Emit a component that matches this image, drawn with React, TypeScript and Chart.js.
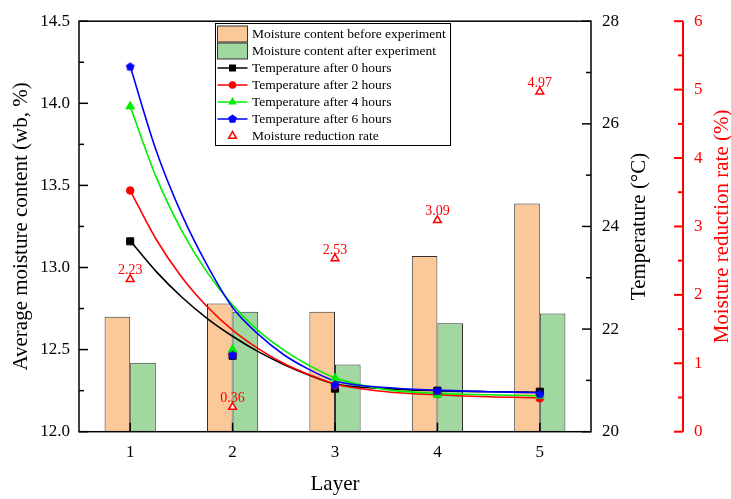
import React, { useEffect, useRef } from 'react';
import { Chart, registerables } from 'chart.js';

Chart.register(...registerables);

// ---------- data ----------
const layers = ['1', '2', '3', '4', '5'];
const layerX = [1, 2, 3, 4, 5];
const moistureBefore = [12.70, 12.78, 12.73, 13.07, 13.39];
const moistureAfter = [12.42, 12.73, 12.41, 12.66, 12.72];

const temp0h = [23.71, 21.48, 20.84, 20.80, 20.78];
const temp2h = [24.70, 21.50, 20.90, 20.73, 20.65];
const temp4h = [26.34, 21.60, 21.04, 20.72, 20.70];
const temp6h = [27.12, 21.50, 20.92, 20.80, 20.74];

const reductionRate = [2.23, 0.36, 2.53, 3.09, 4.97];

// fitted curves
const fitX = [1, 1.25, 1.5, 1.75, 2, 2.25, 2.5, 2.75, 3, 3.5, 4, 4.5, 5];
const fit0h = [23.72, 23.13, 22.63, 22.21, 21.86, 21.56, 21.31, 21.10, 20.93, 20.84, 20.80, 20.78, 20.77];
const fit2h = [24.70, 23.76, 23.02, 22.44, 21.98, 21.62, 21.33, 21.11, 20.93, 20.78, 20.72, 20.68, 20.66];
const fit4h = [26.34, 24.98, 23.93, 23.11, 22.47, 21.97, 21.59, 21.29, 21.05, 20.82, 20.75, 20.72, 20.70];
const fit6h = [27.12, 25.50, 24.25, 23.25, 22.42, 21.90, 21.50, 21.21, 20.99, 20.86, 20.81, 20.78, 20.76];

const legendLabels = [
  'Moisture content before experiment',
  'Moisture content after experiment',
  'Temperature after 0 hours',
  'Temperature after 2 hours',
  'Temperature after 4 hours',
  'Temperature after 6 hours',
  'Moisture reduction rate',
];

const FONT = "'Liberation Serif', 'Times New Roman', serif";
const ORANGE = '#FAC899';
const GREEN = '#A0D8A0';
const BAR_EDGE = '#333333';
const C_BLACK = '#000000';
const C_RED = '#FF0000';
const C_GREEN = '#00EE00';
const C_BLUE = '#0000FF';

function pentPath(ctx: CanvasRenderingContext2D, x: number, y: number, r: number) {
  ctx.beginPath();
  for (let i = 0; i < 5; i++) {
    const a = -Math.PI / 2 + (i * 2 * Math.PI) / 5;
    const px = x + r * Math.cos(a);
    const py = y + r * Math.sin(a);
    if (i === 0) ctx.moveTo(px, py);
    else ctx.lineTo(px, py);
  }
  ctx.closePath();
}

function triPath(ctx: CanvasRenderingContext2D, x: number, y: number, r: number) {
  ctx.beginPath();
  let rad = 0;
  for (let i = 0; i < 3; i++) {
    const px = x + Math.sin(rad) * r;
    const py = y - Math.cos(rad) * r;
    if (i === 0) ctx.moveTo(px, py);
    else ctx.lineTo(px, py);
    rad += (2 * Math.PI) / 3;
  }
  ctx.closePath();
}

function makePentagon(color: string, r: number) {
  const c = document.createElement('canvas');
  const s = Math.ceil(r * 2 + 2);
  c.width = s;
  c.height = s;
  const g = c.getContext('2d')!;
  g.fillStyle = color;
  pentPath(g, s / 2, s / 2 + 0.5, r);
  g.fill();
  return c;
}

const toXY = (xs: number[], ys: number[]) => xs.map((x, i) => ({ x, y: ys[i] }));

const overlayPlugin = {
  id: 'overlay',
  afterDraw(chart: any) {
    const { ctx, chartArea: a, scales } = chart;
    const line = (x1: number, y1: number, x2: number, y2: number) => {
      ctx.beginPath();
      ctx.moveTo(x1, y1);
      ctx.lineTo(x2, y2);
      ctx.stroke();
    };
    ctx.save();
    // frame
    ctx.strokeStyle = '#000';
    ctx.lineWidth = 1.5;
    ctx.strokeRect(a.left, a.top, a.right - a.left, a.bottom - a.top);
    // left ticks (inward)
    const ys = scales.y;
    for (let i = 0; i <= 10; i++) {
      const v = 12 + i * 0.25;
      const py = ys.getPixelForValue(v);
      line(a.left, py, a.left + (i % 2 === 0 ? 9 : 5), py);
    }
    // temperature ticks on right spine (inward)
    const yt = scales.yT;
    for (let t = 20; t <= 28; t++) {
      const py = yt.getPixelForValue(t);
      line(a.right - (t % 2 === 0 ? 9 : 5), py, a.right, py);
    }
    // bottom ticks
    const xs = scales.x;
    layerX.forEach((x) => {
      const px = xs.getPixelForValue(x);
      line(px, a.bottom, px, a.bottom - 9);
    });
    // red axis
    const yr = scales.yR;
    const rx = yr.left;
    ctx.strokeStyle = C_RED;
    ctx.lineWidth = 2;
    line(rx, a.top, rx, a.bottom);
    for (let i = 0; i <= 12; i++) {
      const py = yr.getPixelForValue(i * 0.5);
      line(rx - (i % 2 === 0 ? 9 : 5), py, rx, py);
    }
    // right titles
    const cy = (a.top + a.bottom) / 2;
    ctx.font = `21px ${FONT}`;
    ctx.textAlign = 'center';
    ctx.textBaseline = 'middle';
    ctx.save();
    ctx.translate(yt.right - 44, cy);
    ctx.rotate(-Math.PI / 2);
    ctx.fillStyle = '#000';
    ctx.fillText('Temperature (°C)', 0, 0);
    ctx.restore();
    ctx.save();
    ctx.translate(yr.left + 39, cy);
    ctx.rotate(-Math.PI / 2);
    ctx.fillStyle = C_RED;
    ctx.fillText('Moisture reduction rate (%)', 0, 0);
    ctx.restore();
    // rate labels
    const rateIdx = chart.data.datasets.findIndex((d: any) => d.label === 'rate');
    const meta = chart.getDatasetMeta(rateIdx);
    ctx.font = `14px ${FONT}`;
    ctx.fillStyle = C_RED;
    ctx.textAlign = 'center';
    ctx.textBaseline = 'alphabetic';
    meta.data.forEach((pt: any, i: number) => {
      ctx.fillText(reductionRate[i].toFixed(2), pt.x, pt.y - 5);
    });
    // legend
    const lx = 215, ly = 23, lw = 235, lh = 122;
    ctx.fillStyle = '#fff';
    ctx.fillRect(lx, ly, lw, lh);
    ctx.strokeStyle = '#000';
    ctx.lineWidth = 1;
    ctx.strokeRect(lx + 0.5, ly + 0.5, lw, lh);
    ctx.font = `13.5px ${FONT}`;
    ctx.textAlign = 'left';
    ctx.textBaseline = 'middle';
    const sx1 = 217.5, sx2 = 247.5, mx = 232.5;
    legendLabels.forEach((lab, i) => {
      const ry = 34 + i * 17;
      if (i < 2) {
        ctx.fillStyle = i === 0 ? ORANGE : GREEN;
        ctx.fillRect(sx1, ry - 8, sx2 - sx1, 16);
        ctx.strokeStyle = BAR_EDGE;
        ctx.lineWidth = 1;
        ctx.strokeRect(sx1, ry - 8, sx2 - sx1, 16);
      } else if (i < 6) {
        const col = [C_BLACK, C_RED, C_GREEN, C_BLUE][i - 2];
        ctx.strokeStyle = col;
        ctx.fillStyle = col;
        ctx.lineWidth = 1.5;
        line(sx1, ry, sx2, ry);
        if (i === 2) ctx.fillRect(mx - 3.5, ry - 3.5, 7, 7);
        else if (i === 3) { ctx.beginPath(); ctx.arc(mx, ry, 3.8, 0, Math.PI * 2); ctx.fill(); }
        else if (i === 4) { triPath(ctx, mx, ry, 5); ctx.fill(); }
        else { pentPath(ctx, mx, ry, 4.6); ctx.fill(); }
      } else {
        triPath(ctx, mx, ry, 4.5);
        ctx.fillStyle = '#fff';
        ctx.fill();
        ctx.strokeStyle = C_RED;
        ctx.lineWidth = 1.5;
        ctx.stroke();
      }
      ctx.fillStyle = '#000';
      ctx.fillText(lab, 252, ry);
    });
    ctx.restore();
  },
};

export default function App() {
  const ref = useRef<HTMLCanvasElement>(null);

  useEffect(() => {
    const canvas = ref.current;
    if (!canvas) return;
    Chart.defaults.font.family = FONT;
    Chart.defaults.color = '#000';
    const pent = makePentagon(C_BLUE, 4.6);

    const markerDs = (data: number[], color: string, style: any, radius: number, order: number) => ({
      type: 'line' as const,
      label: 'm',
      data: toXY(layerX, data),
      xAxisID: 'x',
      yAxisID: 'yT',
      showLine: false,
      pointStyle: style,
      pointRadius: radius,
      pointBackgroundColor: color,
      pointBorderColor: color,
      pointBorderWidth: 1,
      order,
    });
    const fitDs = (data: number[], color: string, order: number) => ({
      type: 'line' as const,
      label: 'fit',
      data: toXY(fitX, data),
      xAxisID: 'x',
      yAxisID: 'yT',
      borderColor: color,
      borderWidth: 1.6,
      pointRadius: 0,
      cubicInterpolationMode: 'monotone' as const,
      fill: false,
      order,
    });
    const barDs = (label: string, data: number[], color: string) => ({
      type: 'bar' as const,
      label,
      data: toXY(layerX, data),
      backgroundColor: color,
      borderColor: BAR_EDGE,
      borderWidth: 1,
      xAxisID: 'x',
      yAxisID: 'y',
      categoryPercentage: 0.5,
      barPercentage: 1.0,
      order: 20,
    });

    const chart = new Chart(canvas, {
      type: 'line',
      data: {
        datasets: [
          barDs(legendLabels[0], moistureBefore, ORANGE),
          barDs(legendLabels[1], moistureAfter, GREEN),
          fitDs(fit0h, C_BLACK, 12),
          fitDs(fit2h, C_RED, 11),
          fitDs(fit4h, C_GREEN, 10),
          fitDs(fit6h, C_BLUE, 9),
          markerDs(temp0h, C_BLACK, 'rect', 5, 6),
          markerDs(temp2h, C_RED, 'circle', 3.8, 5),
          markerDs(temp4h, C_GREEN, 'triangle', 5, 4),
          markerDs(temp6h, C_BLUE, pent, 4.6, 3),
          {
            type: 'line',
            label: 'rate',
            data: toXY(layerX, reductionRate),
            xAxisID: 'x',
            yAxisID: 'yR',
            showLine: false,
            pointStyle: 'triangle',
            pointRadius: 4.5,
            pointBackgroundColor: '#ffffff',
            pointBorderColor: C_RED,
            pointBorderWidth: 1.5,
            order: 1,
          },
        ] as any,
      },
      options: {
        responsive: false,
        animation: false,
        devicePixelRatio: 1,
        events: [],
        layout: { padding: { top: 15, left: 0, right: 0, bottom: 0 } },
        plugins: { legend: { display: false }, tooltip: { enabled: false } },
        scales: {
          x: {
            type: 'linear',
            min: 0.5,
            max: 5.5,
            offset: false,
            grid: { display: false, drawTicks: false },
            border: { display: false },
            afterBuildTicks: (s: any) => {
              s.ticks = layerX.map((v) => ({ value: v }));
            },
            ticks: {
              font: { size: 17, family: FONT },
              color: '#000',
              padding: 11,
              autoSkip: false,
              maxRotation: 0,
              callback: (v: any) => {
                const i = layerX.indexOf(Number(v));
                return i >= 0 ? layers[i] : '';
              },
            },
            title: {
              display: true,
              text: 'Layer',
              font: { size: 21, family: FONT },
              color: '#000',
              padding: { top: 0, bottom: 1.5 },
            },
            afterFit: (s: any) => { s.height = 67.3; },
          },
          y: {
            type: 'linear',
            position: 'left',
            stacked: false,
            min: 12,
            max: 14.5,
            grid: { display: false, drawTicks: false },
            border: { display: false },
            ticks: {
              stepSize: 0.5,
              font: { size: 17, family: FONT },
              color: '#000',
              padding: 9,
              callback: (v: any) => Number(v).toFixed(1),
            },
            title: {
              display: true,
              text: 'Average moisture content (wb, %)',
              font: { size: 21, family: FONT },
              color: '#000',
              padding: { top: 9, bottom: 0 },
            },
            afterFit: (s: any) => { s.width = 79; },
          },
          yT: {
            type: 'linear',
            position: 'right',
            weight: 0,
            min: 20,
            max: 28,
            grid: { display: false, drawTicks: false },
            border: { display: false },
            ticks: { stepSize: 2, font: { size: 17, family: FONT }, color: '#000', padding: 11 },
            afterFit: (s: any) => { s.width = 92; },
          },
          yR: {
            type: 'linear',
            position: 'right',
            weight: 1,
            min: 0,
            max: 6,
            grid: { display: false, drawTicks: false },
            border: { display: false },
            ticks: { stepSize: 1, font: { size: 17, family: FONT }, color: C_RED, padding: 11 },
            afterFit: (s: any) => { s.width = 48; },
          },
        } as any,
      },
      plugins: [overlayPlugin],
    });
    return () => chart.destroy();
  }, []);

  return (
    <div style={{ position: 'absolute', left: 0, top: 0, width: 731, height: 499, background: '#fff' }}>
      <canvas ref={ref} width={731} height={499} style={{ display: 'block', width: 731, height: 499 }} />
    </div>
  );
}
